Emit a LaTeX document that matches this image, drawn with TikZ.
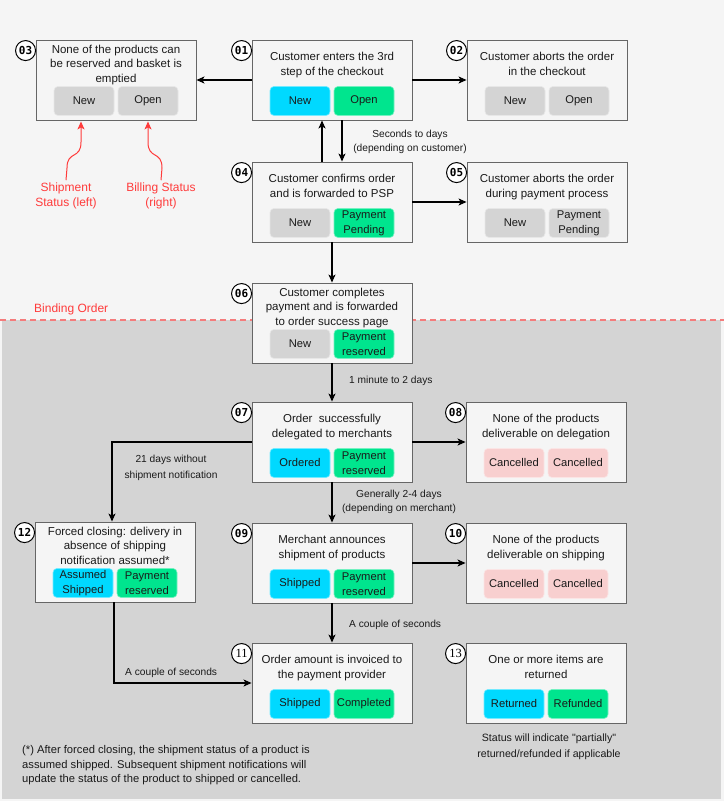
\documentclass[tikz,border=0pt]{standalone}
\usepackage{fontspec}
\setmainfont{Liberation Sans}
\newfontfamily\numfont{DejaVu Sans Mono}
\newfontfamily\numserif{Liberation Serif}
\usetikzlibrary{arrows.meta}
\definecolor{bgtop}{HTML}{F5F5F5}
\definecolor{bgbot}{HTML}{D4D4D4}
\definecolor{boxfill}{HTML}{F5F5F5}
\definecolor{boxline}{HTML}{666666}
\definecolor{pcyan}{HTML}{00D9FF}
\definecolor{pgreen}{HTML}{00E58E}
\definecolor{pgray}{HTML}{D4D4D4}
\definecolor{ppink}{HTML}{F8CFCF}
\definecolor{txt}{HTML}{1A1A1A}
\definecolor{redtxt}{HTML}{FF3B3B}
\definecolor{reddash}{HTML}{F47C7C}
\tikzset{
  box/.style={draw=boxline, fill=boxfill, line width=0.9pt, minimum width=160pt, minimum height=80pt, inner sep=0pt},
  title/.style={inner sep=0pt, align=center, text=txt, font=\fontsize{11.5}{15}\selectfont},
  titlethree/.style={inner sep=0pt, align=center, text=txt, font=\fontsize{11.5}{14.5}\selectfont},
  numc/.style={circle, draw=black, fill=white, line width=1pt, minimum size=20pt, inner sep=0pt, font=\numfont\bfseries\fontsize{11}{12}\selectfont},
  pill/.style={rounded corners=4pt, minimum width=60pt, minimum height=29pt, inner sep=0pt, align=center, text=txt, font=\fontsize{11.2}{15}\selectfont, line width=0.6pt},
  cyanp/.style={fill=pcyan, draw=pcyan!55!white},
  greenp/.style={fill=pgreen, draw=pgreen!55!white},
  grayp/.style={fill=pgray, draw=pgray!55!white},
  pinkp/.style={fill=ppink, draw=ppink!55!white},
  arr/.style={draw=black, line width=1.1pt, -{Stealth[length=8pt,width=7pt,inset=2pt]}},
  redarr/.style={draw=redtxt, line width=1pt, -{Stealth[length=8pt,width=7pt,inset=2pt]}},
  lbl/.style={inner sep=0pt, align=center, text=txt, font=\fontsize{10.2}{14}\selectfont},
  redlbl/.style={inner sep=2pt, align=center, text=redtxt, font=\fontsize{12}{15}\selectfont}
}
\newcommand\mkbox[7]{%
  \node[box] (#1) at (#2,#3) {};
  \node[#7, anchor=north] (#1t) at ([yshift=-#6pt]#1.north) {#5};
  \node[numc] (#1n) at ([xshift=-10pt,yshift=-11pt]#1.north west) {#4};
}
\newcommand\mkpills[5]{%
  \node[pill,#3] (#1a) at ([xshift=-32pt,yshift=19.5pt]#1.south) {#2};
  \node[pill,#5] (#1b) at ([xshift=32pt,yshift=19.5pt]#1.south) {#4};
}
\begin{document}
\begin{tikzpicture}[x=1pt,y=-1pt]
\useasboundingbox (0,0) rectangle (724,801);
\fill[bgtop] (0,0) rectangle (724,801);
\fill[bgbot] (2,320) rectangle (721,799);
\draw[reddash, line width=1.5pt, dash pattern=on 6pt off 4pt] (0,320) -- (724,320);
\node[redlbl, anchor=west, inner sep=0pt] (binding) at (34,309) {Binding Order};

% boxes
\mkbox{b01}{332}{80}{01}{Customer enters the 3rd\\step of the checkout}{12}{title}
\mkpills{b01}{New}{cyanp}{Open}{greenp}
\mkbox{b02}{547}{80}{02}{Customer aborts the order\\in the checkout}{12}{title}
\mkpills{b02}{New}{grayp}{Open}{grayp}
\mkbox{b03}{116}{80}{03}{None of the products can\\be reserved and basket is\\emptied}{5}{titlethree}
\mkpills{b03}{New}{grayp}{Open}{grayp}
\mkbox{b04}{332}{202}{04}{Customer confirms order\\and is forwarded to PSP}{12}{title}
\mkpills{b04}{New}{grayp}{Payment\\Pending}{greenp}
\mkbox{b05}{547}{202}{05}{Customer aborts the order\\during payment process}{12}{title}
\mkpills{b05}{New}{grayp}{Payment\\Pending}{grayp}
\mkbox{b06}{332}{323}{06}{Customer completes\\payment and is forwarded\\to order success page}{5}{titlethree}
\mkpills{b06}{New}{grayp}{Payment\\reserved}{greenp}
\mkbox{b07}{332}{442}{07}{Order\ \ successfully\\delegated to merchants}{12}{title}
\mkpills{b07}{Ordered}{cyanp}{Payment\\reserved}{greenp}
\mkbox{b08}{546}{442}{08}{None of the products\\deliverable on delegation}{12}{title}
\mkpills{b08}{Cancelled}{pinkp}{Cancelled}{pinkp}
\mkbox{b09}{332}{563}{09}{Merchant announces\\shipment of products}{12}{title}
\mkpills{b09}{Shipped}{cyanp}{Payment\\reserved}{greenp}
\mkbox{b10}{546}{563}{10}{None of the products\\deliverable on shipping}{12}{title}
\mkpills{b10}{Cancelled}{pinkp}{Cancelled}{pinkp}
\mkbox{b11}{332}{683}{\numserif\mdseries\fontsize{12.5}{12}\selectfont 11}{Order amount is invoiced to\\the payment provider}{12}{title}
\mkpills{b11}{Shipped}{cyanp}{Completed}{greenp}
\mkbox{b12}{115}{562}{12}{Forced closing: delivery in\\absence of shipping\\notification assumed*}{5}{titlethree}
\mkpills{b12}{Assumed\\Shipped}{cyanp}{Payment\\reserved}{greenp}
\mkbox{b13}{546}{683}{\numserif\mdseries\fontsize{12.5}{12}\selectfont 13}{One or more items are\\returned}{12}{title}
\mkpills{b13}{Returned}{cyanp}{Refunded}{greenp}

% connectors
\draw[arr] (b01.west) -- (b03.east);
\draw[arr] (b01.east) -- (b02.west);
\draw[arr] ([xshift=-10pt]b04.north) -- ([xshift=-10pt]b01.south);
\draw[arr] ([xshift=10pt]b01.south) -- ([xshift=10pt]b04.north);
\draw[arr] (b04.east) -- (b05.west);
\draw[arr] (b04.south) -- (b06.north);
\draw[arr] (b06.south) -- (b07.north);
\draw[arr] (b07.east) -- (b08.west);
\draw[arr] (b07.west) -| ([xshift=-3pt]b12.north);
\draw[arr] (b07.south) -- (b09.north);
\draw[arr] (b09.east) -- (b10.west);
\draw[arr] (b09.south) -- (b11.north);
\draw[arr] ([xshift=-1pt]b12.south) |- (b11.west);

% connector labels
\node[lbl] (l1) at (410,142) {Seconds to days\\(depending on customer)};
\node[lbl, anchor=west] (l2) at (349,381) {1 minute to 2 days};
\node[lbl, font=\fontsize{10.2}{16}\selectfont] (l3) at (171,468) {21 days without\\shipment notification};
\node[lbl] (l4) at (399,502) {Generally 2-4 days\\(depending on merchant)};
\node[lbl, anchor=west] (l5) at (349,625) {A couple of seconds};
\node[lbl, anchor=west] (l6) at (125,673) {A couple of seconds};

% red annotations
\node[redlbl] (ship) at (66,195.5) {Shipment\\Status (left)};
\node[redlbl] (bill) at (161,195.5) {Billing Status\\(right)};
\draw[redarr] (ship.north) -- (67,168) .. controls (67,150) and (81,160) .. (81,142) -- ([xshift=-35pt,yshift=-1pt]b03.south);
\draw[redarr] (bill.north) -- (162,168) .. controls (162,150) and (148,160) .. (148,142) -- ([xshift=32pt,yshift=-1pt]b03.south);

% notes
\node[lbl, anchor=west, align=left, font=\fontsize{11.2}{14.5}\selectfont] (foot) at (22,765.5) {(*) After forced closing, the shipment status of a product is\\assumed shipped. Subsequent shipment notifications will\\update the status of the product to shipped or cancelled.};
\node[lbl, font=\fontsize{10.6}{16.5}\selectfont] (note13) at (549,746.5) {Status will indicate \textquotedbl partially\textquotedbl\\returned/refunded if applicable};
\end{tikzpicture}
\end{document}
